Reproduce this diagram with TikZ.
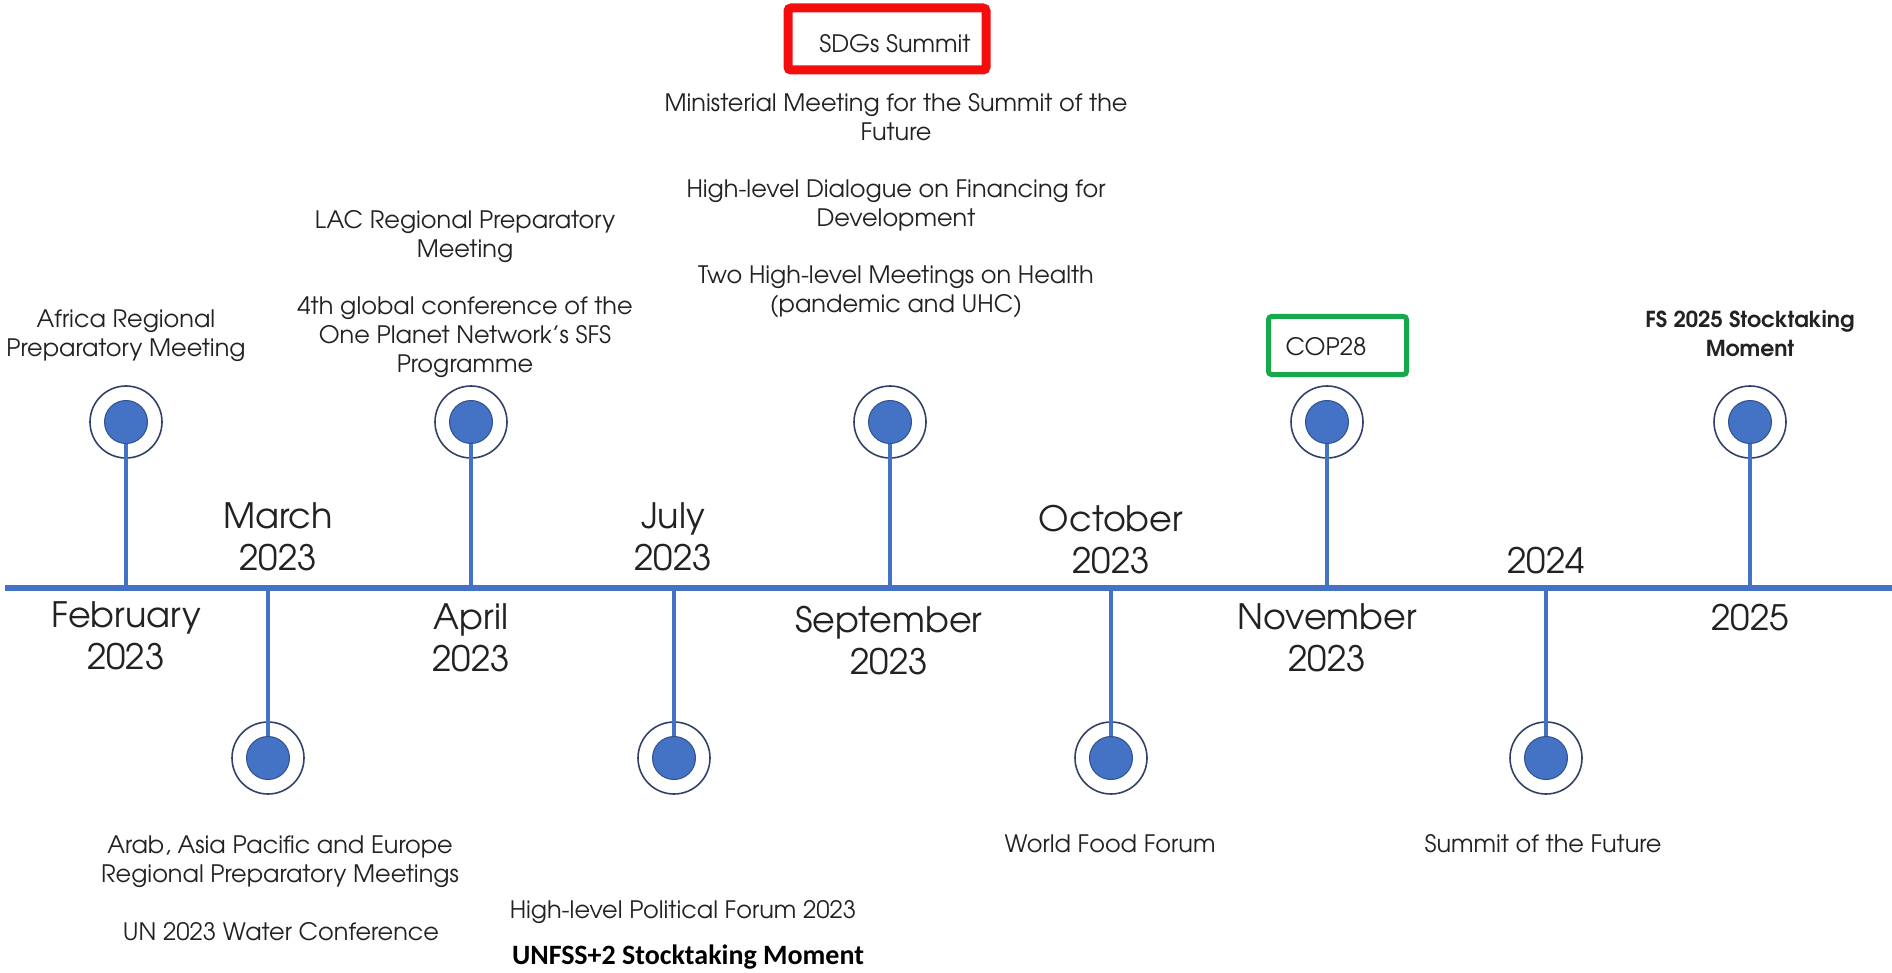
\documentclass[tikz,border=0pt]{standalone}
\usepackage{fontspec}
\newfontfamily\gothic{texgyreadventor}[Extension=.otf,UprightFont=*-regular,BoldFont=*-bold]
\newfontfamily\carlito{Carlito}
\definecolor{axisblue}{HTML}{4472C4}
\definecolor{dotblue}{HTML}{4472C4}
\definecolor{dotedge}{HTML}{2F528F}
\definecolor{ringnavy}{HTML}{33416A}
\definecolor{txt}{HTML}{222222}
\definecolor{markred}{HTML}{F40D0D}
\definecolor{markgreen}{HTML}{17A84B}
\begin{document}
\begin{tikzpicture}[x=1pt,y=-1pt,
  ring/.style={circle, draw=ringnavy, line width=1.6pt, minimum size=72pt, inner sep=0pt},
  dot/.style={circle, fill=dotblue, draw=dotedge, line width=1pt, minimum size=43pt, inner sep=0pt},
  stem/.style={draw=axisblue, line width=4pt},
  axisline/.style={draw=axisblue, line width=6pt},
  lbl/.style={align=center, text=txt, font=\gothic\fontsize{24}{29}\selectfont, inner sep=0pt},
  boldlbl/.style={lbl, font=\gothic\bfseries\fontsize{22}{29}\selectfont},
  mon/.style={align=center, text=txt, font=\gothic\fontsize{35}{42}\selectfont, inner sep=0pt},
  markbox/.style={draw=#1, inner sep=0pt, rounded corners=3pt}
]
\useasboundingbox[fill=white] (0,0) rectangle (1892,973);

% axis
\coordinate (axL) at (5,588);
\coordinate (axR) at (1892,588);
\draw[axisline] (axL) -- (axR);

% markers
\foreach \n/\x/\y in {feb/126/422, mar/268/758, apr/471/422, jul/674/758, sep/890/422, oct/1111/758, nov/1327/422, yb/1546/758, yc/1750/422}{
  \node[ring] (r\n) at (\x,\y) {};
  \coordinate (a\n) at (\x,588);
  \draw[stem] (r\n.center) -- (a\n);
  \node[dot] (d\n) at (\x,\y) {};
}

% month labels
\node[mon] (mfeb) at (126,640) {\strut February\\\strut 2023};
\node[mon] (mmar) at (278,541.5) {\strut March\\\strut 2023};
\node[mon] (mapr) at (471,642.5) {\strut April\\\strut 2023};
\node[mon] (mjul) at (673,541) {\strut July\\\strut 2023};
\node[mon] (msep) at (889,645.5) {\strut September\\\strut 2023};
\node[mon] (moct) at (1111,544) {\strut October\\\strut 2023};
\node[mon] (mnov) at (1327,642.5) {\strut November\\\strut 2023};
\node[mon] (myb) at (1546,565.5) {\strut 2024};
\node[mon] (myc) at (1750,622.5) {\strut 2025};

% top event labels
\node[lbl] (tafr) at (126,336.5) {\strut Africa Regional\\\strut Preparatory Meeting};
\node[lbl] (tlac) at (465,237.5) {\strut LAC Regional Preparatory\\\strut Meeting};
\node[lbl] (tsfs) at (465,338) {\strut 4th global conference of the\\\strut One Planet Network’s SFS\\\strut Programme};
\node[lbl] (tsdg) at (895,46.5) {\strut SDGs Summit};
\node[markbox=markred, line width=9pt, minimum width=198pt, minimum height=62pt] (bsdg) at (887,39) {};
\node[lbl] (tmin) at (896,120.5) {\strut Ministerial Meeting for the Summit of the\\\strut Future};
\node[lbl] (tffd) at (896,206) {\strut High-level Dialogue on Financing for\\\strut Development};
\node[lbl] (thea) at (896,292.5) {\strut Two High-level Meetings on Health\\\strut (pandemic and UHC)};
\node[lbl] (tcop) at (1326,350) {\strut COP28};
\node[markbox=markgreen, line width=5pt, minimum width=138pt, minimum height=58pt] (bcop) at (1337.5,345.5) {};
\node[boldlbl] (tfs) at (1750,336.5) {\strut FS 2025 Stocktaking\\\strut Moment};

% bottom event labels
\node[lbl] (barab) at (280,862.5) {\strut Arab, Asia Pacific and Europe\\\strut Regional Preparatory Meetings};
\node[lbl] (bwat) at (281,935) {\strut UN 2023 Water Conference};
\node[lbl] (bhlpf) at (683,913) {\strut High-level Political Forum 2023};
\node[align=center, text=black, font=\carlito\bfseries\fontsize{28}{33}\selectfont, inner sep=0pt] (bunf) at (688,958) {\strut UNFSS+2 Stocktaking Moment};
\node[lbl] (bwff) at (1110,847) {\strut World Food Forum};
\node[lbl] (bsof) at (1543,847) {\strut Summit of the Future};
\end{tikzpicture}
\end{document}
